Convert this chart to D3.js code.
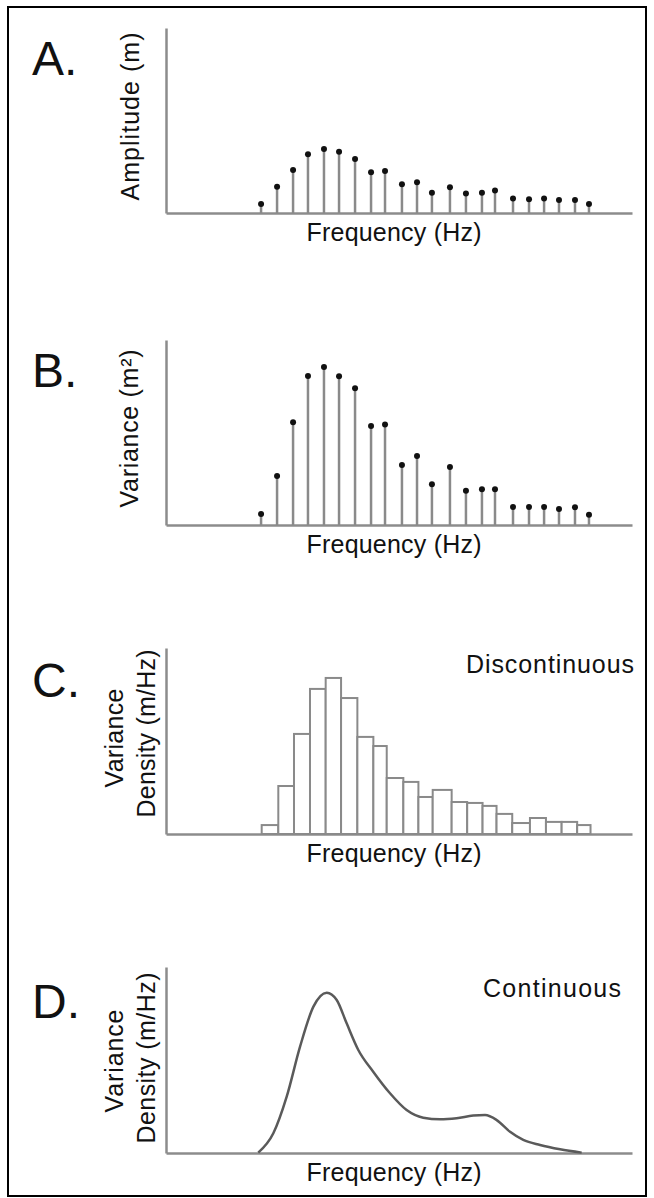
<!DOCTYPE html>
<html><head><meta charset="utf-8">
<script src="https://cdn.jsdelivr.net/npm/d3@7"></script>
<style>
body{margin:0;background:#fff}
svg{display:block}
text{font-family:"Liberation Sans",Arial,sans-serif;fill:#111}
</style>
</head><body><svg id="c" width="654" height="1198"></svg>
<script>
// ---- data ----
const stemFreq = [6.12,7.15,8.18,9.14,10.17,11.14,12.17,13.20,14.10,15.19,16.16,17.12,18.28,19.31,20.34,21.18,22.34,23.37,24.34,25.30,26.33,27.23];
const amplitude = [4.9,14.2,23.2,31.7,34.6,33.1,29.2,22.0,22.7,15.5,16.6,11.0,13.9,10.6,11.0,12.1,7.9,7.4,7.9,7.0,7.0,4.9];
const variance = [5.9,26.5,55.5,80.5,85.4,80.4,73.9,53.5,54.3,32.4,37.3,22.0,31.4,18.5,19.3,19.3,9.7,9.7,9.7,8.6,9.6,5.6];
const binEdges = [6.16,7.23,8.24,9.27,10.28,11.27,12.32,13.35,14.21,15.28,16.25,17.17,18.39,19.39,20.38,21.28,22.29,23.43,24.46,25.47,26.47,27.33];
const binDensity = [4.8,25.8,53.8,78.0,83.9,73.1,52.2,47.3,30.1,28.0,19.9,23.7,17.2,16.7,15.1,10.8,5.9,8.6,6.5,6.5,4.8];
const curveFreq = [5.94,6.91,7.77,8.63,9.49,10.35,10.99,11.63,12.38,13.34,14.42,15.49,16.56,17.64,18.71,19.78,20.54,21.29,22.15,23.00,24.08,25.37,26.76];
const curveDensity = [0.2,10.6,30.3,57.2,78.7,86.2,82.3,69.7,55.4,43.7,32.1,23.1,19.0,18.1,18.7,20.1,20.4,17.7,11.4,7.0,4.3,2.0,0.2];
const panelLetters = ["A.","B.","C.","D."];
const yTitles = [["Amplitude (m)"],["Variance (m\u00B2)"],["Variance","Density (m/Hz)"],["Variance","Density (m/Hz)"]];
const xTitle = "Frequency (Hz)";
const notes = ["","","Discontinuous","Continuous"];

// ---- layout ----
const svg = d3.select("#c");
svg.append("rect").attr("x",8).attr("y",7).attr("width",638).attr("height",1189)
  .attr("fill","none").attr("stroke","#000").attr("stroke-width",2);

const x = d3.scaleLinear().domain([0,30]).range([166,632]);
const panels = [
  {top:28, base:213, letterY:75, titleX:[139], titleY:[116.5], titleLen:[168], noteY:0, noteX:0, noteLen:0},
  {top:340, base:525, letterY:387, titleX:[138], titleY:[428.5], titleLen:[158], noteY:0, noteX:0, noteLen:0},
  {top:648, base:834, letterY:697, titleX:[123,155], titleY:[738,733.5], titleLen:[99,168], noteY:673, noteX:634, noteLen:168},
  {top:967, base:1153, letterY:1018, titleX:[123,155], titleY:[1061,1058], titleLen:[103,171], noteY:997, noteX:621, noteLen:138}
];
const axisColor = "#8c8c8c";

panels.forEach((p,i)=>{
  const g = svg.append("g");
  const y = d3.scaleLinear().domain([0,100]).range([p.base,p.top]);
  p.y = y;
  const ya = g.append("g").attr("transform",`translate(${x(0)},0)`)
    .call(d3.axisLeft(y).tickValues([]).tickSizeOuter(0));
  const xa = g.append("g").attr("transform",`translate(0,${p.base})`)
    .call(d3.axisBottom(x).tickValues([]).tickSizeOuter(0));
  [ya,xa].forEach(a=>a.select(".domain").attr("stroke",axisColor).attr("stroke-width",2.5));
  g.append("text").attr("x",32).attr("y",p.letterY).attr("font-size",48).text(panelLetters[i]);
  yTitles[i].forEach((t,j)=>{
    g.append("text").attr("transform",`translate(${p.titleX[j]},${p.titleY[j]}) rotate(-90)`)
      .attr("text-anchor","middle").attr("font-size",25)
      .attr("textLength",p.titleLen[j]).attr("lengthAdjust","spacing").text(t);
  });
  g.append("text").attr("x",394).attr("y",p.base+28).attr("text-anchor","middle")
    .attr("font-size",25).attr("textLength",175).attr("lengthAdjust","spacing").text(xTitle);
  if(notes[i]) g.append("text").attr("x",p.noteX).attr("y",p.noteY).attr("text-anchor","end")
    .attr("font-size",25).attr("textLength",p.noteLen).attr("lengthAdjust","spacing").text(notes[i]);
});

[[0,amplitude],[1,variance]].forEach(([pi,vals])=>{
  const y = panels[pi].y;
  const g = svg.append("g");
  g.selectAll("line").data(vals).join("line")
    .attr("x1",(d,k)=>x(stemFreq[k])).attr("x2",(d,k)=>x(stemFreq[k]))
    .attr("y1",y(0)).attr("y2",d=>y(d))
    .attr("stroke","#8a8a8a").attr("stroke-width",2.5);
  g.selectAll("circle").data(vals).join("circle")
    .attr("cx",(d,k)=>x(stemFreq[k])).attr("cy",d=>y(d)).attr("r",3).attr("fill","#111");
});

{
  const y = panels[2].y;
  svg.append("g").selectAll("rect").data(binDensity).join("rect")
    .attr("x",(d,k)=>x(binEdges[k])).attr("width",(d,k)=>x(binEdges[k+1])-x(binEdges[k]))
    .attr("y",d=>y(d)).attr("height",d=>y(0)-y(d))
    .attr("fill","#fff").attr("stroke","#8a8a8a").attr("stroke-width",2);
}

{
  const y = panels[3].y;
  const line = d3.line().x(d=>x(d[0])).y(d=>y(d[1])).curve(d3.curveMonotoneX);
  svg.append("path").datum(curveFreq.map((f,k)=>[f,curveDensity[k]]))
    .attr("d",line).attr("fill","none").attr("stroke","#5a5a5a").attr("stroke-width",2.5);
}
</script>
</body></html>
